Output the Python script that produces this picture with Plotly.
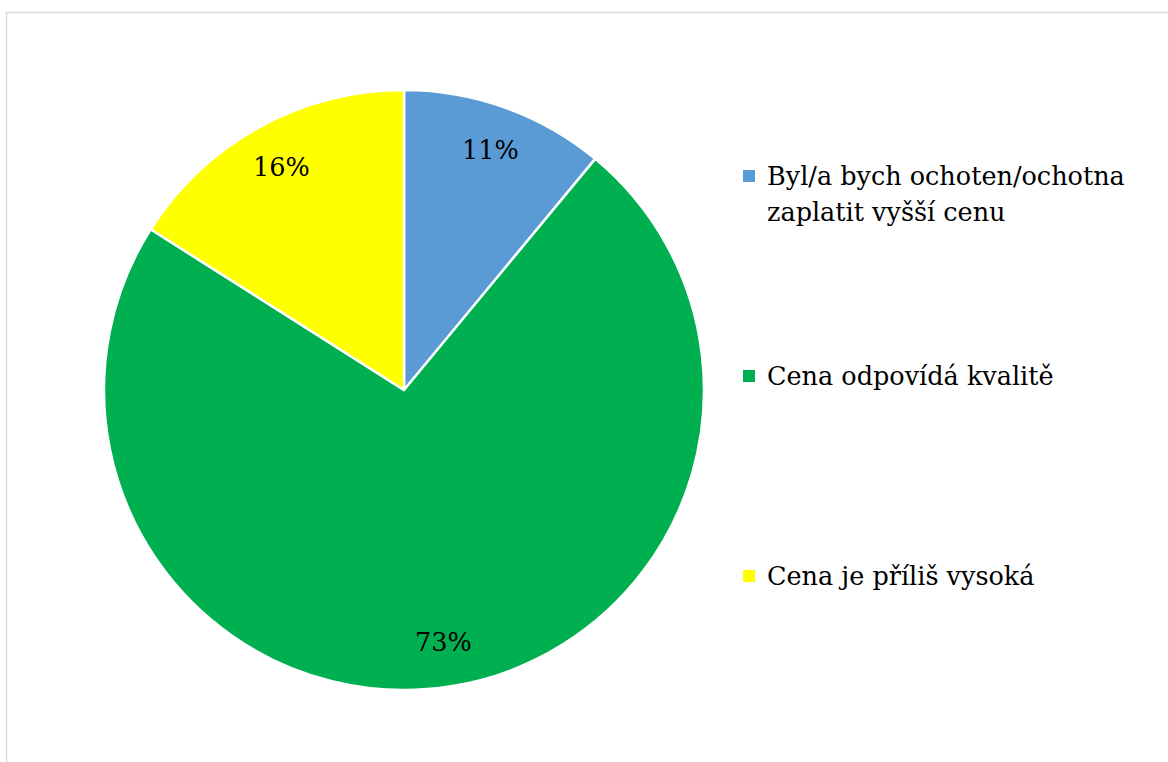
import plotly.graph_objects as go
import math

# Survey answers and their shares (%)
categories = [
    "Byl/a bych ochoten/ochotna<br>zaplatit vyšší cenu",
    "Cena odpovídá kvalitě",
    "Cena je příliš vysoká",
]
shares = [11, 73, 16]
colors = ["#5B9BD5", "#00B050", "#FFFF00"]

W, H = 1168, 762
FONT = "DejaVu Serif"

# pie geometry in pixels
cx, cy, R = 404, 390, 300


def px(x):
    return x / W


def py(y):
    return 1 - y / H


fig = go.Figure(
    go.Pie(
        labels=[c.replace("<br>", " ") for c in categories],
        values=shares,
        sort=False,
        direction="clockwise",
        rotation=0,
        marker=dict(colors=colors, line=dict(color="white", width=2.5)),
        textinfo="none",
        hoverinfo="label+percent",
        showlegend=False,
        domain=dict(x=[px(cx - R), px(cx + R)], y=[py(cy + R), py(cy - R)]),
    )
)

annotations = []

# percentage labels placed near the outer part of each slice
total = sum(shares)
cum = 0
for v in shares:
    mid = (cum + v / 2) / total * 2 * math.pi
    cum += v
    rr = 0.85 * R
    x = cx + rr * math.sin(mid)
    y = cy - rr * math.cos(mid)
    annotations.append(dict(
        x=px(x), y=py(y), xref="paper", yref="paper",
        text=f"{round(v / total * 100)}%", showarrow=False,
        xanchor="center", yanchor="middle",
        font=dict(family=FONT, size=25.5, color="black"),
    ))

# legend drawn on the right: colour square + label lines
shapes = []
leg_x_marker, leg_x_text = 749, 765
leg_y0, leg_step, line_gap, sq = 176, 200, 36, 12
for i, (cat, col) in enumerate(zip(categories, colors)):
    y0 = leg_y0 + i * leg_step
    shapes.append(dict(
        type="rect", xref="paper", yref="paper",
        x0=px(leg_x_marker - sq / 2), x1=px(leg_x_marker + sq / 2),
        y0=py(y0 + sq / 2), y1=py(y0 - sq / 2),
        fillcolor=col, line=dict(width=0),
    ))
    for j, line in enumerate(cat.split("<br>")):
        annotations.append(dict(
            x=px(leg_x_text), y=py(y0 + j * line_gap), xref="paper", yref="paper",
            text=line, showarrow=False, xanchor="left", yanchor="middle",
            font=dict(family=FONT, size=25.5, color="black"),
        ))

# light chart-area frame
shapes.append(dict(
    type="rect", xref="paper", yref="paper",
    x0=px(6.5), x1=px(W + 10), y0=py(H + 10), y1=py(12.5),
    line=dict(color="#D9D9D9", width=1.5), fillcolor="rgba(0,0,0,0)",
    layer="below",
))

fig.update_layout(
    width=W, height=H,
    margin=dict(l=0, r=0, t=0, b=0),
    paper_bgcolor="white", plot_bgcolor="white",
    annotations=annotations, shapes=shapes,
    font=dict(family=FONT),
)

fig.write_html("out.html")
